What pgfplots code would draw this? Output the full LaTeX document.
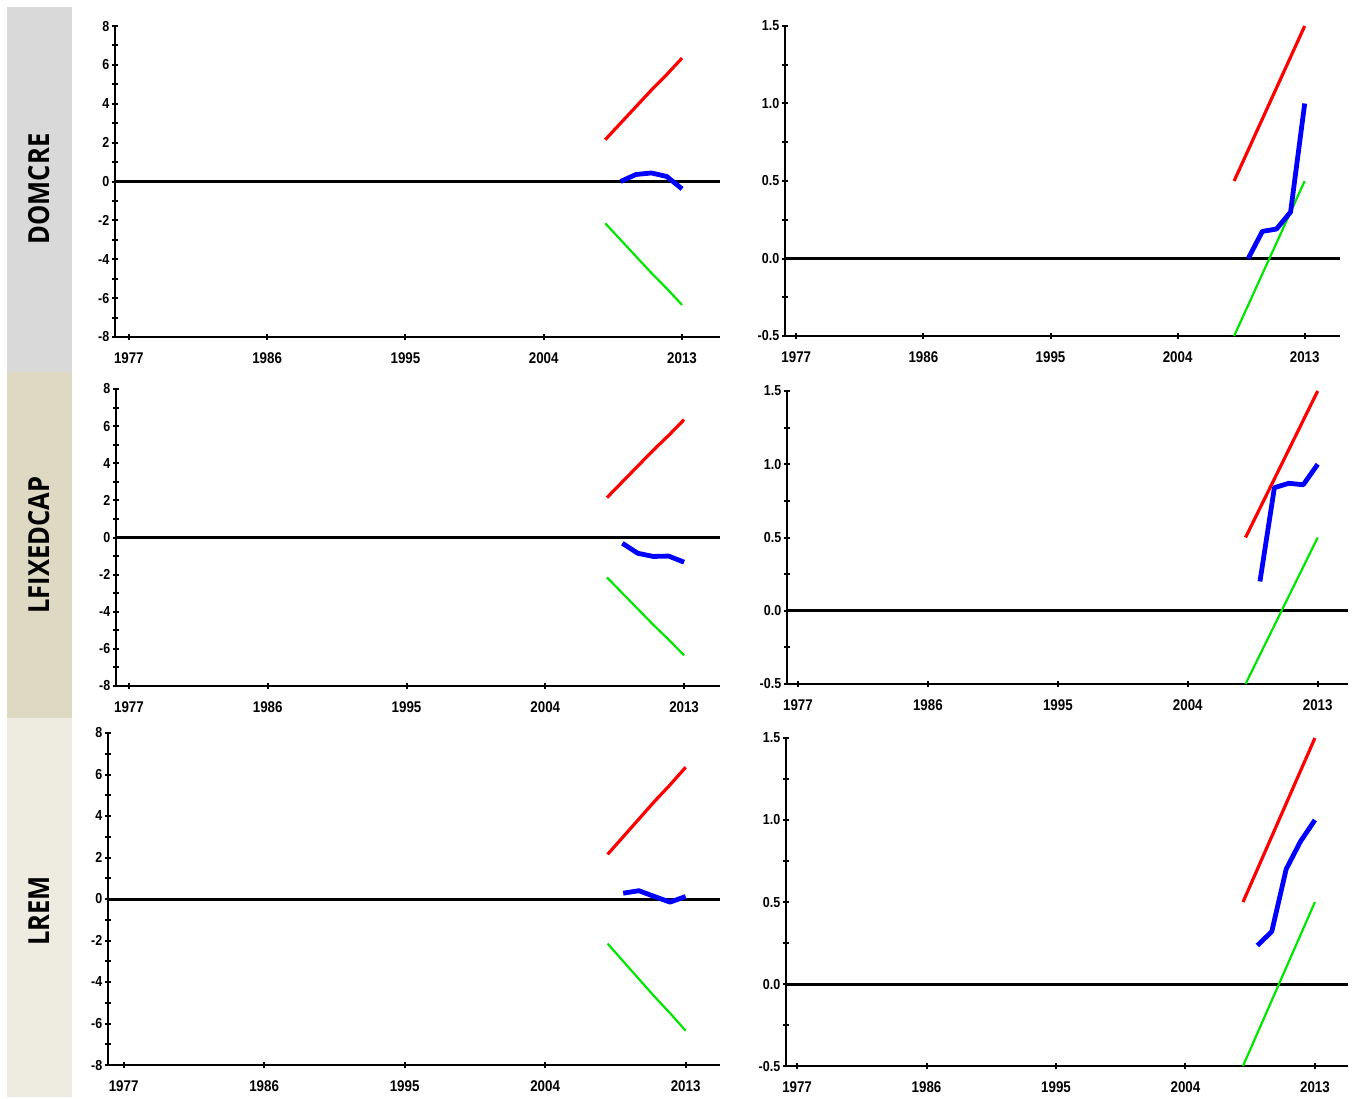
\documentclass[border=0pt]{standalone}
\usepackage{pgfplots}
\pgfplotsset{compat=1.18}
\usepackage{fontspec}
\setmainfont{Liberation Sans}
\newfontfamily\tickfont{Liberation Sans}[FakeStretch=0.86]
\newfontfamily\labfont{Open Sans}[FakeStretch=0.88]
\definecolor{boxA}{HTML}{D9D9D9}
\definecolor{boxB}{HTML}{DDD9C3}
\definecolor{boxC}{HTML}{EEECE1}
\definecolor{bandred}{RGB}{255,0,0}
\definecolor{bandgreen}{RGB}{0,230,0}
\definecolor{irfblue}{RGB}{0,0,255}
\pgfplotsset{
  panel/.style={
    scale only axis, anchor=south west,
    axis x line=bottom, axis y line=left,
    axis line style={-, line width=2.8pt, black},
    xtick={1977,1986,1995,2004,2013},
    xticklabels={1977,1986,1995,2004,2013},
    minor xtick={},
    tick align=center, major tick length=6.5pt, minor tick length=6.5pt,
    tick style={line width=2pt, black},
    clip=false,
    xticklabel style={font=\tickfont\bfseries\fontsize{15.5}{15.5}\selectfont, yshift=-9pt},
    yticklabel style={font=\tickfont\bfseries\fontsize{14.5}{14.5}\selectfont, xshift=1pt},
  },
  leftp/.style={ymin=-8, ymax=8, ytick={-8,-6,-4,-2,0,2,4,6,8},
    yticklabels={-8,-6,-4,-2,0,2,4,6,8}, minor ytick={-7,-5,-3,-1,1,3,5,7}},
  rightp/.style={ymin=-0.5, ymax=1.5, ytick={-0.5,0,0.5,1,1.5},
    yticklabels={-0.5,0.0,0.5,1.0,1.5}, minor ytick={-0.25,0.25,0.75,1.25}},
  zeroline/.style={black, line width=3pt},
  redband/.style={bandred, line width=3.2pt},
  greenband/.style={bandgreen, line width=2.2pt},
  blueirf/.style={irfblue, line width=4.8pt, line join=round},
}
\begin{document}
\begin{tikzpicture}
\useasboundingbox (0,0) rectangle (1354pt,-1099pt);
\fill[boxA] (7pt,-7pt) rectangle (72pt,-372pt);
\fill[boxB] (7pt,-372pt) rectangle (72pt,-718pt);
\fill[boxC] (7pt,-718pt) rectangle (72pt,-1097pt);
\node[rotate=90, font=\labfont\bfseries\fontsize{29}{29}\selectfont] at (39pt,-189pt) {DOMCRE};
\node[rotate=90, font=\labfont\bfseries\fontsize{29}{29}\selectfont] at (39pt,-545pt) {LFIXEDCAP};
\node[rotate=90, font=\labfont\bfseries\fontsize{29}{29}\selectfont] at (39pt,-911pt) {LREM};

% Row 1 left
\begin{axis}[panel, leftp, at={(115pt,-337pt)}, width=605pt, height=311pt, xmin=1976.1, xmax=2015.47]
\addplot[zeroline] coordinates {(1976.1,0) (2015.47,0)};
\addplot[redband] coordinates {(2008,2.15) (2009,3.0) (2010,3.85) (2011,4.7) (2012,5.5) (2013,6.35)};
\addplot[greenband] coordinates {(2008,-2.15) (2009,-3.0) (2010,-3.85) (2011,-4.7) (2012,-5.5) (2013,-6.35)};
\addplot[blueirf] coordinates {(2009,0.0) (2010,0.36) (2011,0.44) (2012,0.26) (2013,-0.38)};
\end{axis}
% Row 1 right
\begin{axis}[panel, rightp, at={(785pt,-336pt)}, width=555pt, height=310pt, xmin=1976.2, xmax=2015.5]
\addplot[zeroline] coordinates {(1976.2,0) (2015.5,0)};
\addplot[redband] coordinates {(2008,0.5) (2009,0.7) (2010,0.9) (2011,1.1) (2012,1.3) (2013,1.5)};
\addplot[greenband] coordinates {(2008,-0.5) (2009,-0.3) (2010,-0.1) (2011,0.1) (2012,0.3) (2013,0.5)};
\addplot[blueirf] coordinates {(2009,0.0) (2010,0.175) (2011,0.19) (2012,0.30) (2013,1.0)};
\end{axis}
% Row 2 left
\begin{axis}[panel, leftp, at={(116pt,-686pt)}, width=604pt, height=297pt, xmin=1976.16, xmax=2015.33]
\addplot[zeroline] coordinates {(1976.16,0) (2015.33,0)};
\addplot[redband] coordinates {(2008,2.15) (2009,3.0) (2010,3.85) (2011,4.7) (2012,5.5) (2013,6.35)};
\addplot[greenband] coordinates {(2008,-2.15) (2009,-3.0) (2010,-3.85) (2011,-4.7) (2012,-5.5) (2013,-6.35)};
\addplot[blueirf] coordinates {(2009,-0.31) (2010,-0.85) (2011,-1.02) (2012,-1.0) (2013,-1.33)};
\end{axis}
% Row 2 right
\begin{axis}[panel, rightp, at={(787pt,-684pt)}, width=561pt, height=293pt, xmin=1976.24, xmax=2015.1]
\addplot[zeroline] coordinates {(1976.24,0) (2015.1,0)};
\addplot[redband] coordinates {(2008,0.5) (2009,0.7) (2010,0.9) (2011,1.1) (2012,1.3) (2013,1.5)};
\addplot[greenband] coordinates {(2008,-0.5) (2009,-0.3) (2010,-0.1) (2011,0.1) (2012,0.3) (2013,0.5)};
\addplot[blueirf] coordinates {(2009,0.20) (2010,0.84) (2011,0.87) (2012,0.86) (2013,1.0)};
\end{axis}
% Row 3 left
\begin{axis}[panel, leftp, at={(108pt,-1065pt)}, width=612pt, height=332pt, xmin=1976.0, xmax=2015.2]
\addplot[zeroline] coordinates {(1976.0,0) (2015.2,0)};
\addplot[redband] coordinates {(2008,2.15) (2009,3.0) (2010,3.85) (2011,4.7) (2012,5.5) (2013,6.35)};
\addplot[greenband] coordinates {(2008,-2.15) (2009,-3.0) (2010,-3.85) (2011,-4.7) (2012,-5.5) (2013,-6.35)};
\addplot[blueirf] coordinates {(2009,0.28) (2010,0.40) (2011,0.12) (2012,-0.15) (2013,0.12)};
\end{axis}
% Row 3 right
\begin{axis}[panel, rightp, at={(786pt,-1066pt)}, width=562pt, height=328pt, xmin=1976.23, xmax=2015.3]
\addplot[zeroline] coordinates {(1976.23,0) (2015.3,0)};
\addplot[redband] coordinates {(2008,0.5) (2009,0.7) (2010,0.9) (2011,1.1) (2012,1.3) (2013,1.5)};
\addplot[greenband] coordinates {(2008,-0.5) (2009,-0.3) (2010,-0.1) (2011,0.1) (2012,0.3) (2013,0.5)};
\addplot[blueirf] coordinates {(2009,0.235) (2010,0.32) (2011,0.70) (2012,0.87) (2013,1.0)};
\end{axis}
\end{tikzpicture}
\end{document}
